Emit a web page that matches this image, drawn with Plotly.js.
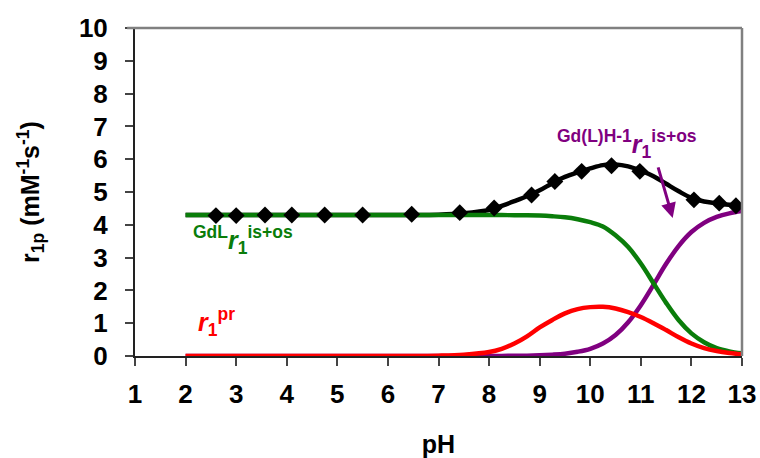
<!DOCTYPE html>
<html>
<head>
<meta charset="utf-8">
<script src="https://cdn.plot.ly/plotly-3.0.1.min.js"></script>
<style>html,body{margin:0;padding:0;background:#fff;}#chart{width:760px;height:458px;}</style>
</head>
<body>
<div id="chart"></div>
<script>
// Curve grid (pH)
var pHGrid = [2, 3, 4, 5, 6, 6.5, 7, 7.5, 8, 8.25, 8.5, 8.75, 9, 9.25, 9.5, 9.75, 10, 10.25, 10.5, 10.75, 11, 11.25, 11.5, 11.75, 12, 12.25, 12.5, 12.75, 13];
// GdL r1 is+os (green)
var gdlIsOs = [4.30, 4.30, 4.30, 4.30, 4.30, 4.30, 4.30, 4.30, 4.30, 4.30, 4.29, 4.29, 4.28, 4.26, 4.23, 4.17, 4.08, 3.95, 3.68, 3.32, 2.82, 2.22, 1.62, 1.09, 0.69, 0.42, 0.24, 0.14, 0.08];
// Gd(L)H-1 r1 is+os (purple)
var gdlh1IsOs = [0, 0, 0, 0, 0, 0, 0, 0, 0, 0.00, 0.01, 0.01, 0.02, 0.04, 0.07, 0.13, 0.22, 0.38, 0.64, 1.03, 1.55, 2.17, 2.81, 3.36, 3.78, 4.06, 4.24, 4.35, 4.42];
// r1 pr (red)
var r1pr = [0, 0, 0, 0, 0, 0, 0.01, 0.04, 0.12, 0.22, 0.38, 0.60, 0.87, 1.10, 1.30, 1.43, 1.49, 1.50, 1.45, 1.34, 1.19, 1.00, 0.79, 0.57, 0.38, 0.24, 0.15, 0.09, 0.05];
// total fit (black)
var r1pFit = [4.30, 4.30, 4.30, 4.30, 4.30, 4.30, 4.31, 4.35, 4.45, 4.58, 4.72, 4.87, 5.05, 5.27, 5.46, 5.60, 5.72, 5.82, 5.84, 5.78, 5.65, 5.48, 5.25, 5.02, 4.82, 4.71, 4.66, 4.61, 4.57];
// measured points
var pHData = [2.6, 3.0, 3.57, 4.1, 4.75, 5.5, 6.47, 7.42, 8.1, 8.84, 9.3, 9.83, 10.42, 10.98, 12.05, 12.55, 12.88];
var r1pData = [4.28, 4.28, 4.30, 4.30, 4.30, 4.30, 4.32, 4.37, 4.51, 4.91, 5.32, 5.63, 5.80, 5.63, 4.76, 4.66, 4.58];

var xTicks = [1,2,3,4,5,6,7,8,9,10,11,12,13];
var yTicks = [0,1,2,3,4,5,6,7,8,9,10];

var green = '#0a7d0a', purple = '#800080', red = '#ff0000';
var lw = 4.5;

var traces = [
  {x: pHGrid, y: r1pFit, mode: 'lines', line: {color: '#000', width: lw, shape: 'spline', smoothing: 1}, hoverinfo: 'skip'},
  {x: pHGrid, y: gdlh1IsOs, mode: 'lines', line: {color: purple, width: lw, shape: 'spline', smoothing: 1}, hoverinfo: 'skip'},
  {x: pHGrid, y: gdlIsOs, mode: 'lines', line: {color: green, width: lw, shape: 'spline', smoothing: 1}, hoverinfo: 'skip'},
  {x: pHGrid, y: r1pr, mode: 'lines', line: {color: red, width: lw, shape: 'spline', smoothing: 1}, hoverinfo: 'skip'},
  {x: pHData, y: r1pData, mode: 'markers', marker: {symbol: 'diamond', size: 13, color: '#000'}, hoverinfo: 'skip'}
];

var tfont = {family: 'Liberation Sans, Arial, sans-serif', size: 26, color: '#000', weight: 'bold'};
var afont = {family: 'Liberation Sans, Arial, sans-serif', size: 25, color: '#000', weight: 'bold'};

var layout = {
  width: 760, height: 458,
  margin: {l: 135, r: 18, t: 28, b: 102},
  paper_bgcolor: '#fff', plot_bgcolor: '#fff',
  showlegend: false,
  font: {family: 'Liberation Sans, Arial, sans-serif'},
  xaxis: {
    range: [1, 13], tickvals: xTicks, ticktext: xTicks.map(String),
    showgrid: false, zeroline: false, showline: true, linecolor: '#222', linewidth: 2,
    ticks: 'outside', ticklen: 8, tickwidth: 2, tickcolor: '#444',
    tickfont: tfont, ticklabelstandoff: 6,
    title: {text: 'pH', font: afont, standoff: 34}
  },
  yaxis: {
    range: [0, 10], tickvals: yTicks, ticktext: yTicks.map(String),
    showgrid: false, zeroline: false, showline: true, linecolor: '#222', linewidth: 2,
    ticks: 'outside', ticklen: 8, tickwidth: 2, tickcolor: '#444',
    tickfont: tfont, ticklabelstandoff: 12,
    title: {text: 'r<sub>1p</sub> (mM<sup>-1</sup>s<sup>-1</sup>)', font: afont, standoff: 32}
  },
  shapes: [
    {type: 'line', xref: 'paper', yref: 'paper', x0: -0.013, x1: 1, y0: 1, y1: 1, line: {color: '#808080', width: 2.5}},
    {type: 'line', xref: 'paper', yref: 'paper', x0: 1, x1: 1, y0: 0, y1: 1, line: {color: '#808080', width: 2.5}}
  ],
  annotations: [
    {x: 3.13, y: 3.54, xref: 'x', yref: 'y', showarrow: false,
     text: '<sup>GdL</sup><i>r</i><sub>1</sub><sup>is+os</sup>',
     font: {family: 'Liberation Sans, Arial, sans-serif', size: 25, color: green, weight: 'bold'}},
    {x: 2.62, y: 1.03, xref: 'x', yref: 'y', showarrow: false,
     text: '<i>r</i><sub>1</sub><sup>pr</sup>',
     font: {family: 'Liberation Sans, Arial, sans-serif', size: 25, color: red, weight: 'bold'}},
    {x: 10.72, y: 6.45, xref: 'x', yref: 'y', showarrow: false,
     text: '<sup>Gd(L)H-1</sup><i>r</i><sub>1</sub><sup>is+os</sup>',
     font: {family: 'Liberation Sans, Arial, sans-serif', size: 25, color: purple, weight: 'bold'}},
    {x: 11.63, y: 4.21, xref: 'x', yref: 'y', text: '', showarrow: true,
     ax: -15, ay: -52, arrowcolor: purple, arrowwidth: 3, arrowhead: 2, arrowsize: 1}
  ]
};

Plotly.newPlot('chart', traces, layout, {staticPlot: true, displayModeBar: false});
</script>
</body>
</html>
